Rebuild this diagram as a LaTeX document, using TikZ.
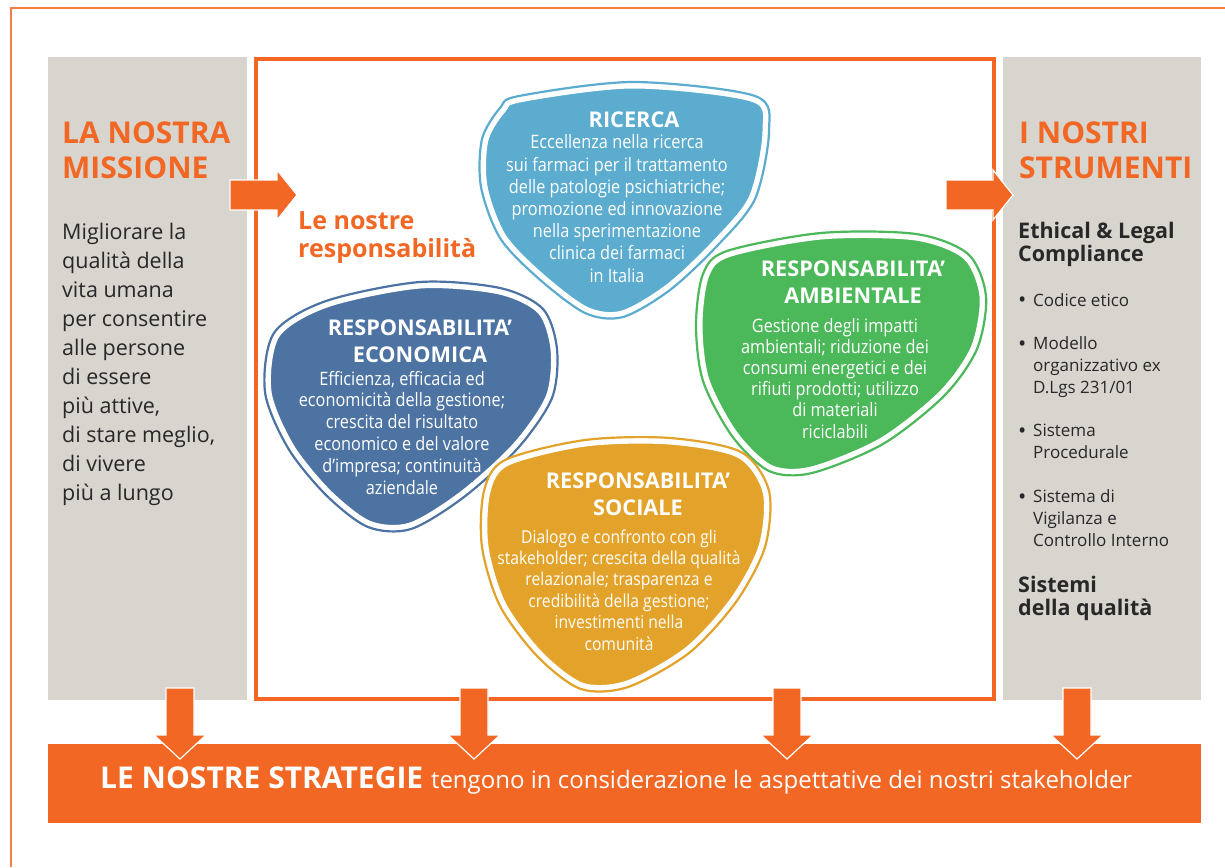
\documentclass[tikz,border=0pt]{standalone}
\usepackage{fontspec}
\setmainfont{Open Sans}
\newfontfamily\condfont{Open Sans}[FakeStretch=0.88]
\usetikzlibrary{positioning}

\definecolor{orng}{RGB}{242,103,36}
\definecolor{panelgray}{RGB}{216,212,206}
\definecolor{darktext}{RGB}{40,40,40}
\definecolor{ricblue}{RGB}{91,172,206}
\definecolor{ecoblue}{RGB}{76,115,162}
\definecolor{ambgreen}{RGB}{75,184,89}
\definecolor{socyellow}{RGB}{227,162,41}

% blob with white inner ring and thin outline: colour, points
\newcommand{\blob}[2]{%
  \fill[#1] plot[smooth cycle] coordinates {#2};
  \begin{scope}
    \clip plot[smooth cycle] coordinates {#2};
    \draw[white, line width=13pt] plot[smooth cycle] coordinates {#2};
  \end{scope}
  \draw[#1, line width=2.2pt] plot[smooth cycle] coordinates {#2};
}

\tikzset{
  blockarrow/.style={fill=orng, draw=white, line width=1.2pt, line join=miter},
  title/.style={anchor=base west, align=left, inner sep=0pt, text=orng,
    font=\fontsize{30}{35}\selectfont\bfseries},
  bodytext/.style={anchor=base west, align=left, inner sep=0pt, text=darktext,
    font=\fontsize{21.5}{28.9}\selectfont},
  subtitle/.style={anchor=base west, align=left, inner sep=0pt, text=darktext,
    font=\fontsize{21.5}{23}\selectfont\bfseries},
  item/.style={anchor=base west, align=left, inner sep=0pt, text=darktext,
    font=\fontsize{17}{21.7}\selectfont},
  dot/.style={anchor=base west, inner sep=0pt, text=darktext,
    font=\fontsize{22}{22}\selectfont},
  blobhead/.style={anchor=base, align=center, inner sep=0pt, text=white,
    font=\fontsize{21.7}{26.5}\selectfont\bfseries},
  blobtext/.style={anchor=base, align=center, inner sep=0pt, text=white,
    font=\condfont\fontsize{18.5}{21.8}\selectfont},
}

\begin{document}
\begin{tikzpicture}[x=1pt, y=-1pt]
  \useasboundingbox (0,0) rectangle (1225,867);
  \fill[white] (0,0) rectangle (1225,867);

  % outer frame
  \draw[orng!85, line width=1.5pt] (11,867) -- (11,8) -- (1225,8);

  % side panels and middle box
  \fill[panelgray] (48,57) rectangle (247,700);
  \fill[panelgray] (1003,57) rectangle (1201,700);
  \draw[orng, line width=4.5pt] (256,59) rectangle (994,699);

  % the four responsibilities
  \blob{ricblue}{(519,96) (633,82) (755,96) (769,131) (755,199) (717,246)
    (670,290) (623,317) (585,313) (538,278) (500,238) (481,187) (482,139) (500,108)}
  \blob{ecoblue}{(326,301) (420,282) (500,288) (543,309) (557,349) (552,398)
    (518,448) (464,497) (411,529) (368,527) (326,495) (288,448) (265,392) (274,333)}
  \blob{ambgreen}{(727,251) (821,233) (916,234) (968,254) (986,296) (977,349)
    (944,396) (883,444) (812,473) (769,471) (732,436) (703,381) (696,325) (703,274)}
  \blob{socyellow}{(505,460) (585,440) (670,438) (741,452) (769,491) (765,547)
    (736,602) (689,653) (628,687) (581,689) (538,657) (500,606) (482,547) (484,491)}

  % arrows
  \draw[blockarrow] (230,180) -- (277,180) -- (277,170) -- (297,195)
    -- (277,220) -- (277,210) -- (230,210) -- cycle;
  \draw[blockarrow] (946,180) -- (993,180) -- (993,170) -- (1013,195)
    -- (993,220) -- (993,210) -- (946,210) -- cycle;

  % bottom bar
  \fill[orng] (48,744) rectangle (1201,823);
  \foreach \ax in {180,474,787,1077}
    \draw[blockarrow] ({\ax-14},688) -- ({\ax+14},688) -- ({\ax+14},735)
      -- ({\ax+26},735) -- (\ax,759) -- ({\ax-26},735) -- ({\ax-14},735) -- cycle;

  % left panel (base = last line)
  \node[title] (missione) at (62,178) {LA NOSTRA\\MISSIONE};
  \node[bodytext] (missione-txt) at (62,500) {Migliorare la\\qualità della\\vita umana\\
    per consentire\\alle persone\\di essere\\più attive,\\di stare meglio,\\
    di vivere\\più a lungo};

  \node[title, font=\fontsize{25}{28}\selectfont\bfseries] (resp) at (298,257)
    {Le nostre\\responsabilità};

  % blob texts
  \node[blobhead] (ric-head) at (634,127) {RICERCA};
  \node[blobtext, font=\condfont\fontsize{18.5}{22.2}\selectfont] (ric-txt) at (617,282)
    {Eccellenza nella ricerca\\sui farmaci per il trattamento\\delle patologie psichiatriche;\\
    promozione ed innovazione\\nella sperimentazione\\clinica dei farmaci\\in Italia};

  \node[blobhead] (eco-head) at (420,362) {RESPONSABILITA’\\ECONOMICA};
  \node[blobtext] (eco-txt) at (402,494)
    {Efficienza, efficacia ed\\economicità della gestione;\\crescita del risultato\\
    economico e del valore\\d’impresa; continuità\\aziendale};

  \node[blobhead] (amb-head) at (853,303) {RESPONSABILITA’\\AMBIENTALE};
  \node[blobtext, font=\condfont\fontsize{18.5}{21.2}\selectfont] (amb-txt) at (835,438)
    {Gestione degli impatti\\ambientali; riduzione dei\\consumi energetici e dei\\
    rifiuti prodotti; utilizzo\\di materiali\\riciclabili};

  \node[blobhead] (soc-head) at (638,515) {RESPONSABILITA’\\SOCIALE};
  \node[blobtext, font=\condfont\fontsize{17.8}{21.4}\selectfont] (soc-txt) at (619,650)
    {Dialogo e confronto con gli\\stakeholder; crescita della qualità\\relazionale; trasparenza e\\
    credibilità della gestione;\\investimenti nella\\comunità};

  % right panel
  \node[title] (strumenti) at (1019,178) {I NOSTRI\\STRUMENTI};
  \node[subtitle] (compliance) at (1018,261) {Ethical \& Legal\\Compliance};
  \node[dot] (b1) at (1018,307) {\textbullet};
  \node[item] (i1) at (1033,306) {Codice etico};
  \node[dot] (b2) at (1018,351) {\textbullet};
  \node[item] (i2) at (1033,393) {Modello\\organizzativo ex\\D.Lgs 231/01};
  \node[dot] (b3) at (1018,438) {\textbullet};
  \node[item] (i3) at (1033,458) {Sistema\\Procedurale};
  \node[dot] (b4) at (1018,504) {\textbullet};
  \node[item] (i4) at (1033,546) {Sistema di\\Vigilanza e\\Controllo Interno};
  \node[subtitle] (qualita) at (1018,615) {Sistemi\\della qualità};

  % strategy bar text
  \node[anchor=base west, inner sep=0pt, text=white] (strategie) at (100,788)
    {\fontsize{30}{32}\selectfont\bfseries LE NOSTRE STRATEGIE
     \fontsize{24}{28}\selectfont\mdseries tengono in considerazione le aspettative dei nostri stakeholder};
\end{tikzpicture}
\end{document}
